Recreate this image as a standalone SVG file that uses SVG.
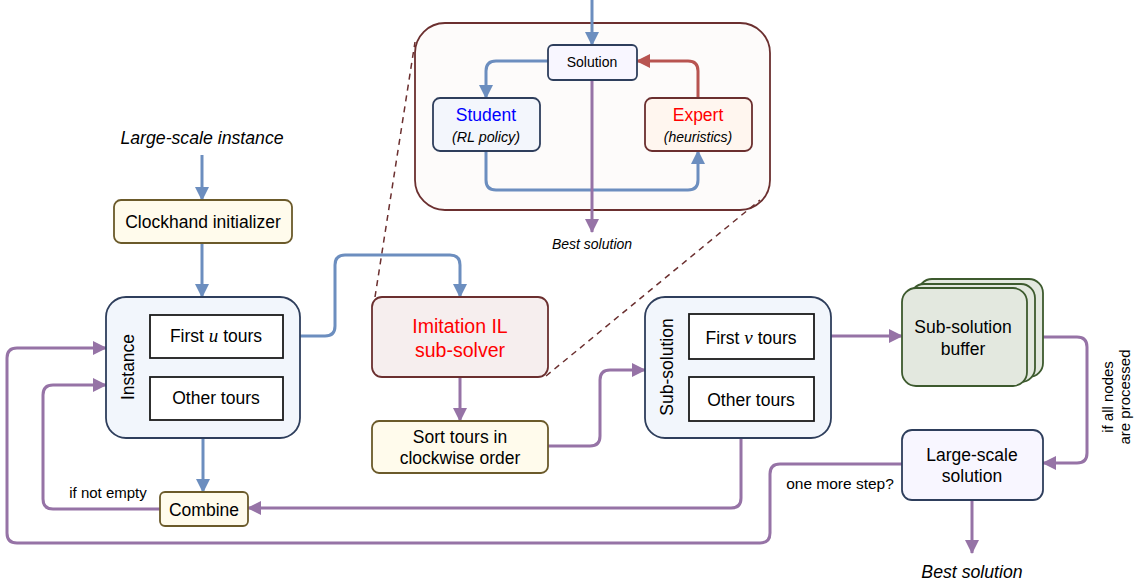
<svg xmlns="http://www.w3.org/2000/svg" width="1139" height="587" viewBox="0 0 1139 587">
<defs>
<style>
text{font-family:"Liberation Sans",Arial,sans-serif;fill:#000;}
.c{text-anchor:middle;}
.it{font-style:italic;}
.math{font-family:"Liberation Serif","DejaVu Serif",serif;font-style:italic;}
.edge{fill:none;stroke-width:3;stroke-linejoin:round;}
.blue{stroke:#6c8ebf;}
.purple{stroke:#9673a6;}
.red{stroke:#b85450;}
.dash{fill:none;stroke:#6b2f2f;stroke-width:1.5;stroke-dasharray:6 5;}
.navy{stroke:#2e3e5c;stroke-width:1.8;}
.yel{fill:#fffbec;stroke:#6b5a2a;stroke-width:1.8;}
.inner{fill:#fff;stroke:#1a1a1a;stroke-width:1.8;}
</style>
<marker id="ab" viewBox="0 0 14 14" markerUnits="userSpaceOnUse" markerWidth="14" markerHeight="14" refX="13" refY="7" orient="auto"><path d="M0,0 L14,7 L0,14 z" fill="#6c8ebf"/></marker>
<marker id="ap" viewBox="0 0 14 14" markerUnits="userSpaceOnUse" markerWidth="14" markerHeight="14" refX="13" refY="7" orient="auto"><path d="M0,0 L14,7 L0,14 z" fill="#9673a6"/></marker>
<marker id="ar" viewBox="0 0 14 14" markerUnits="userSpaceOnUse" markerWidth="14" markerHeight="14" refX="13" refY="7" orient="auto"><path d="M0,0 L14,7 L0,14 z" fill="#b85450"/></marker>
</defs>

<g id="inset">
<rect x="415" y="23" width="355" height="187" rx="30" fill="#fdfbfa" stroke="#6b2f2f" stroke-width="1.8"/>
</g>
<g id="dashed-links">
<path class="dash" d="M375,297 L415,42"/>
<path class="dash" d="M546,376 L760,200"/>
</g>

<g id="connectors">
<path class="edge blue" d="M592,0 V45" marker-end="url(#ab)"/>
<path class="edge blue" d="M548,61 H496 Q486,61 486,71 V98" marker-end="url(#ab)"/>
<path class="edge blue" d="M486,151 V180 Q486,190 496,190 H688 Q698,190 698,180 V151" marker-end="url(#ab)"/>
<path class="edge red" d="M698,98 V71 Q698,61 688,61 H637" marker-end="url(#ar)"/>
<path class="edge purple" d="M592,80 V232" marker-end="url(#ap)"/>

<path class="edge blue" d="M202,155 V200" marker-end="url(#ab)"/>
<path class="edge blue" d="M202,243 V297" marker-end="url(#ab)"/>
<path class="edge blue" d="M283,336 H325 Q335,336 335,326 V265 Q335,255 345,255 H450 Q460,255 460,265 V297" marker-end="url(#ab)"/>
<path class="edge blue" d="M203,420 V492" marker-end="url(#ab)"/>
<path class="edge purple" d="M460,377 V421" marker-end="url(#ap)"/>
<path class="edge purple" d="M548,446 H590 Q600,446 600,436 V380 Q600,370 610,370 H645" marker-end="url(#ap)"/>
<path class="edge purple" d="M814,336 H902" marker-end="url(#ap)"/>
<path class="edge purple" d="M1035,337 H1077 Q1087,337 1087,347 V453 Q1087,463 1077,463 H1043" marker-end="url(#ap)"/>
<path class="edge purple" d="M972,500 V553" marker-end="url(#ap)"/>
<path class="edge purple" d="M902,464 H780 Q770,464 770,474 V533 Q770,543 760,543 H17 Q7,543 7,533 V358 Q7,348 17,348 H106" marker-end="url(#ap)"/>
<path class="edge purple" d="M741,421 V498 Q741,508 731,508 H248" marker-end="url(#ap)"/>
<path class="edge purple" d="M160,509 H53 Q43,509 43,499 V395 Q43,385 53,385 H106" marker-end="url(#ap)"/>
</g>

<g id="solution">
<rect x="548" y="45" width="89" height="35" rx="5" fill="#f8f6ff" class="navy"/>
<text x="592" y="67" class="c" font-size="14">Solution</text>
</g>
<g id="student">
<rect x="433" y="98" width="107" height="53" rx="7" fill="#f3f6fc" class="navy"/>
<text x="486" y="121" class="c" font-size="17.5" style="fill:#0000ff">Student</text>
<text x="486" y="142" class="c it" font-size="14.3">(RL policy)</text>
</g>
<g id="expert">
<rect x="645" y="98" width="107" height="53" rx="7" fill="#fff6ef" stroke="#6b2f2f" stroke-width="1.8"/>
<text x="698" y="121" class="c" font-size="17.5" style="fill:#ff0000">Expert</text>
<text x="698" y="142" class="c it" font-size="14">(heuristics)</text>
</g>
<g id="best-inset">
<text x="592" y="249" class="c it" font-size="14">Best solution</text>
</g>

<g id="large-instance">
<text x="202" y="144" class="c it" font-size="17.7">Large-scale instance</text>
</g>
<g id="clockhand">
<rect x="114" y="200" width="178" height="43" rx="7" class="yel"/>
<text x="203" y="228" class="c" font-size="17.5">Clockhand initializer</text>
</g>

<g id="instance">
<rect x="106" y="297" width="194" height="141" rx="20" fill="#f2f6fc" class="navy"/>
<text transform="translate(134,367) rotate(-90)" class="c" font-size="17.5">Instance</text>
<rect x="150" y="315" width="133" height="43" class="inner"/>
<text x="216" y="342" class="c" font-size="17.5">First <tspan class="math" font-size="19">u</tspan> tours</text>
<rect x="150" y="377" width="133" height="43" class="inner"/>
<text x="216" y="404" class="c" font-size="17.5">Other tours</text>
</g>

<g id="imitation">
<rect x="372" y="297" width="176" height="80" rx="10" fill="#f6eeee" stroke="#6b2f2f" stroke-width="1.8"/>
<text x="460" y="333" class="c" font-size="19.5" style="fill:#ff0000">Imitation IL</text>
<text x="460" y="357" class="c" font-size="19.5" style="fill:#ff0000">sub-solver</text>
</g>

<g id="sort">
<rect x="372" y="421" width="176" height="52" rx="7" class="yel"/>
<text x="460" y="443" class="c" font-size="17.5">Sort tours in</text>
<text x="460" y="464" class="c" font-size="17.5">clockwise order</text>
</g>

<g id="subsolution">
<rect x="645" y="297" width="186" height="141" rx="20" fill="#f2f6fc" class="navy"/>
<text transform="translate(673,367) rotate(-90)" class="c" font-size="17.5">Sub-solution</text>
<rect x="689" y="314" width="125" height="45" class="inner"/>
<text x="751" y="344" class="c" font-size="17.5">First <tspan class="math" font-size="19">v</tspan> tours</text>
<rect x="689" y="377" width="125" height="44" class="inner"/>
<text x="751" y="406" class="c" font-size="17.5">Other tours</text>
</g>

<g id="buffer">
<rect x="918" y="279" width="125" height="98" rx="14" fill="#e3e8df" stroke="#3d5a2e" stroke-width="1.8"/>
<rect x="910" y="284" width="125" height="98" rx="14" fill="#e3e8df" stroke="#3d5a2e" stroke-width="1.8"/>
<rect x="902" y="288" width="125" height="98" rx="14" fill="#e3e8df" stroke="#3d5a2e" stroke-width="1.8"/>
<text x="963" y="333" class="c" font-size="17.5">Sub-solution</text>
<text x="963" y="355" class="c" font-size="17.5">buffer</text>
</g>

<g id="large-solution">
<rect x="902" y="430" width="141" height="70" rx="10" fill="#f8f6ff" class="navy"/>
<text x="972" y="461" class="c" font-size="17.5">Large-scale</text>
<text x="972" y="482" class="c" font-size="17.5">solution</text>
</g>

<g id="combine">
<rect x="160" y="492" width="88" height="34" rx="5" class="yel"/>
<text x="204" y="516" class="c" font-size="17.5">Combine</text>
</g>

<g id="labels">
<text x="108" y="498" class="c" font-size="15">if not empty</text>
<text x="840" y="489" class="c" font-size="15.5">one more step?</text>
<text transform="translate(1113,397) rotate(-90)" class="c" font-size="15">if all nodes</text>
<text transform="translate(1130,397) rotate(-90)" class="c" font-size="15">are processed</text>
<text x="972" y="578" class="c it" font-size="17.7">Best solution</text>
</g>
</svg>
